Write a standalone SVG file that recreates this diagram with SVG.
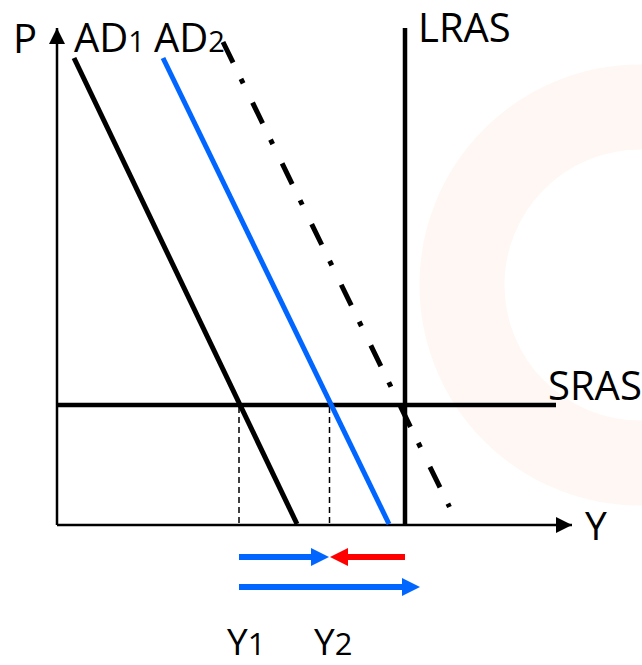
<svg xmlns="http://www.w3.org/2000/svg" width="642" height="665" viewBox="0 0 642 665">
<style>
.lbl{font-family:"Open Sans","DejaVu Sans",sans-serif;font-size:40px;fill:#000}
.sub{font-size:29px}
.ax{stroke:#000;stroke-width:2.5;fill:none}
.thick{stroke:#000;stroke-width:4.5;fill:none}
.ad{stroke-width:5;fill:none}
.guide{stroke:#000;stroke-width:1.5;stroke-dasharray:6 4;fill:none}
</style>
<defs>
<marker id="axh" viewBox="0 0 16 16" refX="16" refY="8" markerWidth="16" markerHeight="16" markerUnits="userSpaceOnUse" orient="auto">
<path d="M0,0 L16,8 L0,16 Z" fill="#000"/>
</marker>
</defs>
<rect width="642" height="665" fill="#fff"/>
<g id="background" opacity="0.3">
<circle cx="640" cy="285" r="178" fill="none" stroke="#fbe3d6" stroke-width="85"/>
</g>
<g id="axes">
<line class="ax" x1="57" y1="525" x2="57" y2="28" marker-end="url(#axh)"/>
<line class="ax" x1="57" y1="525" x2="572" y2="525" marker-end="url(#axh)"/>
<text class="lbl" x="13" y="53" font-size="38">P</text>
<text class="lbl" x="585" y="540" style="font-size:39px">Y</text>
</g>
<g id="connectors">
<line class="guide" x1="239" y1="407" x2="239" y2="524"/>
<line class="guide" x1="329.5" y1="407" x2="329.5" y2="524"/>
</g>
<g id="lras">
<line class="thick" x1="405" y1="28" x2="405" y2="525"/>
<text class="lbl" x="418" y="42">LRAS</text>
</g>
<g id="sras">
<line class="thick" x1="57" y1="405" x2="556" y2="405"/>
<text class="lbl" x="548" y="400">SRAS</text>
</g>
<g id="ad1">
<line class="ad" stroke="#000" x1="74" y1="58" x2="297" y2="524"/>
<text class="lbl" x="74" y="52">AD<tspan class="sub">1</tspan></text>
</g>
<g id="ad2">
<line class="ad" stroke="#0066ff" x1="163" y1="58" x2="389" y2="524"/>
<text class="lbl" x="154" y="52">AD<tspan class="sub">2</tspan></text>
</g>
<g id="ad3">
<line class="ad" stroke="#000" stroke-dasharray="23 18 5 21.5" x1="223" y1="42" x2="449.5" y2="507"/>
</g>
<g id="shifts">
<line x1="239" y1="557" x2="313" y2="557" stroke="#0066ff" stroke-width="6"/>
<path d="M311,548 L329,557 L311,566 Z" fill="#0066ff"/>
<line x1="405" y1="557" x2="346" y2="557" stroke="#ff0000" stroke-width="6"/>
<path d="M348,548 L330,557 L348,566 Z" fill="#ff0000"/>
<line x1="239" y1="587" x2="404" y2="587" stroke="#0066ff" stroke-width="6"/>
<path d="M402,578 L420,587 L402,596 Z" fill="#0066ff"/>
</g>
<g id="y-labels">
<text class="lbl" x="227" y="655" style="font-size:37px">Y<tspan style="font-size:31px">1</tspan></text>
<text class="lbl" x="314" y="655" style="font-size:37px">Y<tspan style="font-size:31px">2</tspan></text>
</g>
</svg>
